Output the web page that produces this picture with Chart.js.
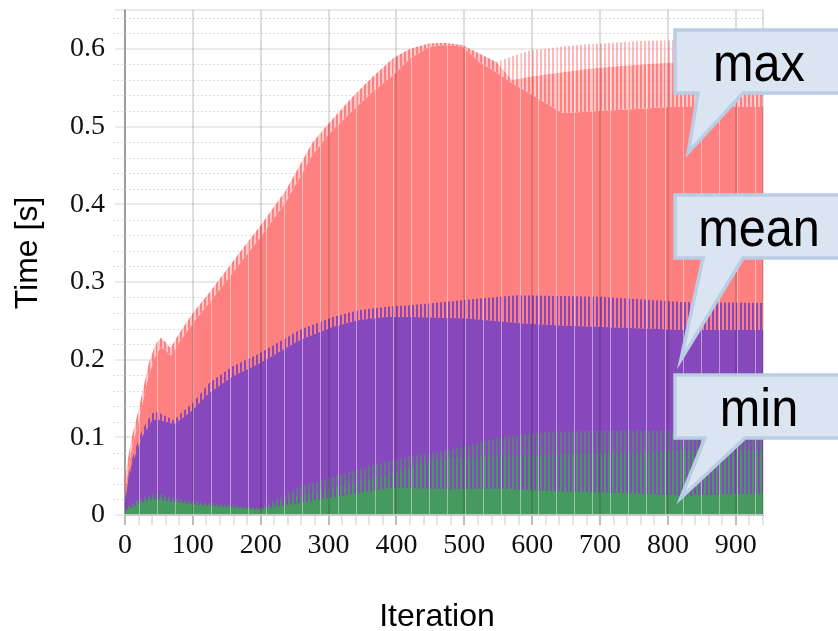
<!DOCTYPE html>
<html>
<head>
<meta charset="utf-8">
<script src="https://cdn.jsdelivr.net/npm/chart.js@4.4.1/dist/chart.umd.min.js"></script>
<style>
  html, body { margin: 0; padding: 0; background: #ffffff; }
  #wrap { width: 838px; height: 631px; position: relative; }
</style>
</head>
<body>
<div id="wrap"><canvas id="chart" width="838" height="631"></canvas></div>
<script>
// Per-iteration solve time (seconds): envelopes of the max, mean and min curves.
// Each curve oscillates between its low and high envelope; the max and min
// curves also have an intermediate level where the oscillation is denser.
const maxIter = [0, 5, 10, 20, 35, 45, 53, 60, 67, 80, 100, 125, 150, 175, 200, 237, 276, 300, 335, 365,
                 395, 420, 448, 470, 497, 522, 547, 570, 596, 620, 645, 680, 718, 760, 802, 870, 940];
const maxHigh = [0.05, 0.075, 0.10, 0.135, 0.195, 0.22, 0.228, 0.222, 0.215, 0.234, 0.26, 0.287, 0.316, 0.345, 0.373, 0.418, 0.479, 0.504, 0.538, 0.564,
                 0.588, 0.600, 0.607, 0.608, 0.605, 0.594, 0.583, 0.590, 0.598, 0.600, 0.603, 0.606, 0.608, 0.610, 0.611, 0.611, 0.611];
const maxMid = [0.05, 0.075, 0.10, 0.135, 0.195, 0.22, 0.228, 0.222, 0.215, 0.234, 0.26, 0.287, 0.316, 0.345, 0.373, 0.418, 0.479, 0.504, 0.538, 0.564,
                0.588, 0.600, 0.607, 0.608, 0.605, 0.594, 0.583, 0.560, 0.564, 0.567, 0.570, 0.574, 0.577, 0.580, 0.582, 0.583, 0.583];
const maxLow = [0.03, 0.06, 0.085, 0.12, 0.18, 0.205, 0.216, 0.212, 0.205, 0.222, 0.247, 0.274, 0.302, 0.33, 0.358, 0.403, 0.463, 0.49, 0.52, 0.545,
                0.566, 0.588, 0.602, 0.605, 0.603, 0.583, 0.570, 0.556, 0.543, 0.530, 0.517, 0.519, 0.521, 0.523, 0.525, 0.525, 0.525];

const meanIter = [0, 5, 10, 25, 40, 47, 60, 72, 85, 100, 124, 158, 198, 257, 306, 345, 385, 420, 503, 577, 640, 700, 822, 940];
const meanHigh = [0.02, 0.05, 0.071, 0.109, 0.131, 0.133, 0.127, 0.122, 0.133, 0.144, 0.17, 0.191, 0.208, 0.238, 0.255, 0.264, 0.268, 0.270, 0.277, 0.283, 0.282, 0.281, 0.274, 0.273];
const meanLow = [0.015, 0.045, 0.065, 0.10, 0.122, 0.123, 0.12, 0.117, 0.125, 0.135, 0.157, 0.178, 0.195, 0.225, 0.242, 0.251, 0.255, 0.255, 0.253, 0.247, 0.244, 0.242, 0.238, 0.238];

const minIter = [0, 16, 35, 50, 70, 109, 158, 198, 257, 306, 355, 394, 453, 478, 552, 625, 748, 822, 940];
const minHigh = [0.008, 0.019, 0.026, 0.028, 0.022, 0.017, 0.013, 0.009, 0.036, 0.049, 0.062, 0.071, 0.08, 0.084, 0.10, 0.107, 0.109, 0.108, 0.109];
const minMid = [0.008, 0.016, 0.022, 0.024, 0.019, 0.015, 0.011, 0.008, 0.025, 0.035, 0.045, 0.055, 0.071, 0.073, 0.077, 0.078, 0.08, 0.084, 0.084];
const minLow = [0.005, 0.013, 0.019, 0.02, 0.017, 0.013, 0.01, 0.007, 0.015, 0.023, 0.03, 0.035, 0.034, 0.033, 0.034, 0.031, 0.028, 0.025, 0.028];

// Callout bubbles: label and the point (iteration, seconds) each tail points at.
const calloutLabels = ['max', 'mean', 'min'];
const calloutIter = [830, 819, 819];
const calloutValue = [0.467, 0.2, 0.022];

const xTitle = 'Iteration';
const yTitle = 'Time [s]';

// ---- styling ----
const RED = '#ff8080';
const PURPLE = '#8747bd';
const GREEN = '#479a5f';
const calloutBoxes = [[675, 30, 850, 93], [675, 195, 850, 258], [675, 375, 850, 438]];
const calloutBases = [[698, 743], [703, 743], [705, 745]];
const SEAM_START = 20.6, SEAM_STEP = 26.7;

function stripes(color, gap, period, width) {
  const c = document.createElement('canvas');
  c.width = period; c.height = 1;
  const g = c.getContext('2d');
  if (gap) { g.fillStyle = gap; g.fillRect(0, 0, period, 1); }
  g.fillStyle = color; g.fillRect(0, 0, width, 1);
  return g.createPattern(c, 'repeat');
}

const pts = (xs, ys) => xs.map((x, i) => ({ x, y: ys[i] }));

function area(data, bg, fill) {
  return { data, backgroundColor: bg, fill, borderWidth: 0, pointRadius: 0, tension: 0 };
}

// Drawn in reverse order: the max layers first, the min layers last (on top).
const datasets = [
  area(pts(minIter, minLow), GREEN, 'origin'),
  area(pts(minIter, minMid), stripes(GREEN, null, 4, 2), '-1'),
  area(pts(minIter, minHigh), stripes('rgba(71,154,95,0.6)', null, 4, 2), '-1'),
  area(pts(meanIter, meanLow), PURPLE, 'origin'),
  area(pts(meanIter, meanHigh), stripes(PURPLE, null, 4, 2), '-1'),
  area(pts(maxIter, maxLow), RED, 'origin'),
  area(pts(maxIter, maxMid), stripes(RED, 'rgba(255,128,128,0.45)', 4, 2), '-1'),
  area(pts(maxIter, maxHigh), stripes('rgba(255,128,128,0.55)', null, 4, 2), '-1'),
];

const isMajorY = v => Math.abs(v * 10 - Math.round(v * 10)) < 1e-6;

// dotted minor grid every 0.02 s
const minorGrid = {
  id: 'minorGrid',
  beforeDatasetsDraw(chart) {
    const { ctx, chartArea, scales: { y } } = chart;
    ctx.save();
    ctx.strokeStyle = '#e0e0e0';
    ctx.lineWidth = 1;
    ctx.setLineDash([2, 2]);
    for (let k = 1; k <= 32; k++) {
      if (k % 5 === 0) continue;
      const py = Math.round(y.getPixelForValue(k * 0.02)) + 0.5;
      ctx.beginPath();
      ctx.moveTo(chartArea.left - 12, py);
      ctx.lineTo(chartArea.right, py);
      ctx.stroke();
    }
    ctx.restore();
  }
};

// thin light seams running through the filled areas
const seams = {
  id: 'seams',
  afterDatasetsDraw(chart) {
    const { ctx, chartArea, scales: { x } } = chart;
    const top = chart.getDatasetMeta(7).dataset;
    ctx.save();
    ctx.beginPath();
    ctx.rect(chartArea.left, chartArea.top, chartArea.width, chartArea.height);
    ctx.clip();
    ctx.strokeStyle = 'rgba(255,255,255,0.45)';
    ctx.lineWidth = 1;
    for (let it = SEAM_START; it < 940; it += SEAM_STEP) {
      const px = Math.round(x.getPixelForValue(it)) + 0.5;
      const p = top.interpolate({ x: px }, 'x');
      if (!p) continue;
      ctx.beginPath();
      ctx.moveTo(px, chartArea.bottom);
      ctx.lineTo(px, p.y);
      ctx.stroke();
    }
    ctx.restore();
  }
};

// axis titles and callout bubbles
const overlay = {
  id: 'overlay',
  afterDraw(chart) {
    const { ctx, scales: { x, y } } = chart;
    ctx.save();
    ctx.fillStyle = '#000';
    ctx.font = '32px "Liberation Sans", Arial, sans-serif';
    ctx.textAlign = 'center';
    ctx.textBaseline = 'alphabetic';
    ctx.fillText(xTitle, 437, 626);
    ctx.translate(37, 253);
    ctx.rotate(-Math.PI / 2);
    ctx.fillText(yTitle, 0, 0);
    ctx.restore();

    calloutLabels.forEach((label, i) => {
      const tx = x.getPixelForValue(calloutIter[i]);
      const ty = y.getPixelForValue(calloutValue[i]);
      const [l, t, r, b] = calloutBoxes[i];
      const [b1, b2] = calloutBases[i];
      ctx.save();
      ctx.beginPath();
      ctx.moveTo(l, t);
      ctx.lineTo(r, t);
      ctx.lineTo(r, b);
      ctx.lineTo(b2, b);
      ctx.lineTo(tx, ty);
      ctx.lineTo(b1, b);
      ctx.lineTo(l, b);
      ctx.closePath();
      ctx.fillStyle = '#dbe5f1';
      ctx.fill();
      ctx.lineWidth = 3.5;
      ctx.lineJoin = 'miter';
      ctx.strokeStyle = '#b9cde4';
      ctx.stroke();
      ctx.fillStyle = '#000';
      ctx.font = '54px "Liberation Sans", Arial, sans-serif';
      ctx.textAlign = 'center';
      ctx.textBaseline = 'alphabetic';
      ctx.translate(759, t + 51);
      ctx.scale(0.9, 1);
      ctx.fillText(label, 0, 0);
      ctx.restore();
    });
  }
};

new Chart(document.getElementById('chart'), {
  type: 'line',
  data: { datasets },
  plugins: [minorGrid, seams, overlay],
  options: {
    responsive: false,
    animation: false,
    devicePixelRatio: 1,
    layout: { padding: { top: 10, right: 75, left: 0, bottom: 0 } },
    plugins: { legend: { display: false }, tooltip: { enabled: false } },
    scales: {
      x: {
        type: 'linear', min: 0, max: 940,
        afterFit(s) { s.height = 116; s.paddingLeft = 0; s.paddingRight = 0; },
        border: { color: '#c8c8c8', width: 2, z: 1 },
        grid: {
          z: 1,
          lineWidth: 2,
          color: c => (c.tick && (c.tick.value % 100 === 0 || c.tick.value === 940)) ? 'rgba(0,0,0,0.13)' : 'rgba(0,0,0,0)',
          tickLength: 10,
          tickWidth: 2,
          tickColor: c => (c.tick && c.tick.value % 100 === 0) ? '#bdbdbd' : '#e4e4e4'
        },
        ticks: {
          stepSize: 20, autoSkip: false, maxRotation: 0, minRotation: 0, padding: 4,
          color: '#111',
          font: { family: '"Liberation Serif", "Times New Roman", serif', size: 28 },
          callback: v => (v % 100 === 0 ? String(v) : '')
        }
      },
      y: {
        min: 0, max: 0.65,
        afterFit(s) { s.width = 125; s.paddingTop = 0; s.paddingBottom = 0; },
        border: { color: '#b4b4b4', width: 2 },
        grid: { color: '#ebebeb', lineWidth: 2, tickLength: 10, tickWidth: 2, tickColor: '#ebebeb' },
        ticks: {
          stepSize: 0.1, padding: 10,
          color: '#111',
          font: { family: '"Liberation Serif", "Times New Roman", serif', size: 28 },
          callback: v => {
            if (!isMajorY(v)) return '';
            const k = Math.round(v * 10);
            return k === 0 ? '0' : (k / 10).toFixed(1);
          }
        }
      }
    }
  }
});
</script>
</body>
</html>
